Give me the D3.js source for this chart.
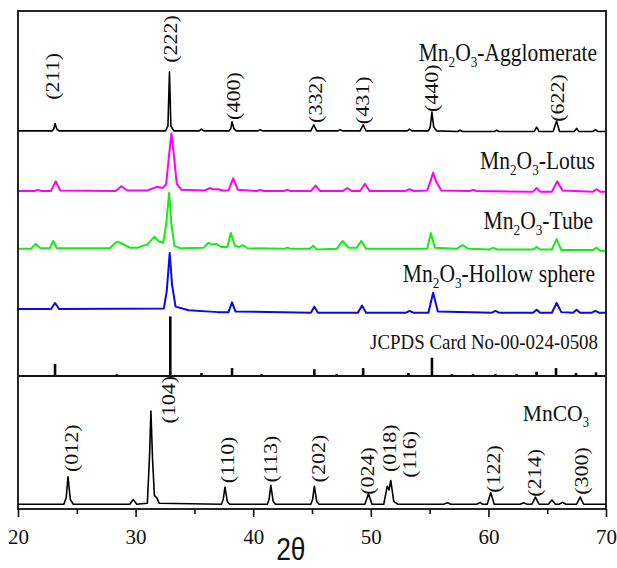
<!DOCTYPE html>
<html>
<head>
<meta charset="utf-8">
<script src="https://cdn.jsdelivr.net/npm/d3@7"></script>
<style>
	body { margin: 0; background: #fff; }
	svg { display: block; }
	.serif { font-family: "Liberation Serif", "Times New Roman", serif; }
</style>
</head>
<body>
<svg id="chart"></svg>
<script>
//2θ 範圍
var xDomain = [20, 70];
var majorTicks = [20, 30, 40, 50, 60, 70];
var minorTicks = [25, 35, 45, 55, 65];

//Mn2O3 樣品 (2θ, 強度 a.u.)
var seriesNames = ["Mn_2O_3-Agglomerate", "Mn_2O_3-Lotus", "Mn_2O_3-Tube", "Mn_2O_3-Hollow sphere"];
var seriesColors = ["#000000", "#ff00ff", "#11ee11", "#0a0ae6"];
var seriesOffsets = [403, 304, 209, 110];

var agglomerate = [[20,0],[22.9,0],[23.05,3],[23.15,12],[23.3,3],[23.5,0],[32.55,0],[32.75,8],[32.88,97],[33.0,8],[33.25,0],
	[35.4,0],[35.6,3],[35.8,0],[37.95,0],[38.1,4],[38.2,15],[38.35,4],[38.55,0],[40.4,0],[40.6,2],[40.8,0],
	[44.9,0],[45.15,10],[45.4,0],[47.2,0],[47.4,2],[47.6,0],[49.1,0],[49.35,10],[49.6,0],[53.1,0],[53.3,3],[53.5,0],
	[54.9,0],[55.05,6],[55.2,31],[55.35,6],[55.6,0],[57.4,-1],[57.6,1],[57.8,-1],[60.5,-1],[60.7,1],[60.9,-1],
	[63.9,-1],[64.1,6],[64.3,-1],[65.5,-1],[65.8,16],[66.05,-1],[67.3,-1],[67.5,4],[67.7,-1],[68.9,-1],[69.1,2],[69.3,-1],[70,-1]];

var lotus = [[20,0],[21.4,0],[21.7,2],[22.0,0],[22.8,0],[23.2,16],[23.6,1],[28.3,0],[28.8,8],[29.3,1],[31.0,1],[31.8,7],
	[32.3,5],[32.6,12],[32.85,60],[33.05,95],[33.25,60],[33.5,12],[33.9,2],[35.9,1],[36.3,5],[36.6,3],[37.0,3],[37.4,1],
	[37.9,1],[38.3,21],[38.7,2],[40.3,0],[40.6,2],[40.9,0],[42.6,0],[42.9,2],[43.2,0],[44.9,0],[45.3,9],[45.7,0],
	[47.6,0],[48.0,5],[48.4,0],[49.1,0],[49.5,12],[49.9,0],[52.9,0],[53.3,3],[53.7,0],[54.8,1],[55.1,18],[55.3,30],
	[55.6,14],[56.0,1],[58.4,0],[58.7,2],[59.0,0],[63.8,-1],[64.1,5],[64.4,-1],[65.4,-1],[65.85,16],[66.3,1],
	[68.9,-1],[69.2,3],[69.5,-1],[70,-1]];

var tube = [[20,0],[21.1,0],[21.5,8],[21.9,1],[22.7,1],[23.0,13],[23.3,1],[27.8,1],[28.3,10],[28.5,12],[28.9,8],[29.5,2],
	[30.2,2],[30.6,5],[31.0,7],[31.6,20],[32.0,12],[32.35,10],[32.6,40],[32.85,92],[33.05,40],[33.3,5],[33.8,1],
	[35.8,2],[36.2,10],[36.5,7],[36.9,8],[37.3,3],[37.8,3],[38.1,26],[38.45,5],[38.8,3],[39.1,6],[39.5,1],
	[42.6,0],[42.9,2],[43.2,0],[44.8,0],[45.1,5],[45.4,-1],[47.1,0],[47.6,13],[48.1,2],[48.8,2],[49.2,13],[49.6,0],
	[54.8,0],[55.1,26],[55.45,2],[57.3,0],[57.8,6],[58.3,0],[60.1,-1],[60.4,2],[60.7,-1],[63.8,-1],[64.1,3],[64.4,-1],
	[65.4,-1],[65.8,16],[66.2,-2],[68.9,-2],[69.2,2],[69.5,-3],[70,-3]];

var hollowSphere = [[20,0],[22.8,0],[23.15,10],[23.5,0],[32.4,1],[32.65,30],[32.9,92],[33.1,40],[33.4,4],[34.5,-2],
	[37.0,-5],[37.9,-5],[38.2,11],[38.5,-4],[44.9,-6],[45.2,4],[45.5,-6],[48.9,-6],[49.25,6],[49.6,-6],[53.0,-6],
	[53.3,-3],[53.6,-6],[54.9,-6],[55.3,27],[55.7,-4],[60.3,-6],[60.6,-3],[60.9,-6],[63.8,-6],[64.1,-1],[64.4,-6],
	[65.4,-6],[65.8,10],[66.2,-5],[67.2,-6],[67.5,-1],[67.8,-6],[68.8,-6],[69.1,-3],[69.4,-6],[70,-6]];

//JCPDS 00-024-0508 標準峰
var cardName = "JCPDS Card No-00-024-0508";
var cardPos = [23.15, 28.4, 32.95, 35.6, 38.2, 40.7, 45.2, 47.1, 49.35, 53.2, 55.2, 56.9, 58.7, 60.6, 62.4, 64.1, 65.75, 67.45, 69.15];
var cardInt = [20, 3, 98, 5, 13, 3, 11, 3, 13, 5, 30, 3, 3, 3, 3, 7, 13, 5, 6];

//MnCO3 前驅物
var mnco3Name = "MnCO_3";
var mnco3 = [[20,5],[23.9,5],[24.1,12],[24.25,34],[24.45,10],[24.7,5],[29.5,5],[29.8,10],[30.1,5],[31.0,6],[31.2,60],
	[31.3,103],[31.45,50],[31.6,14],[31.8,12],[32.0,6],[37.3,5],[37.45,10],[37.6,23],[37.8,8],[38.0,5],[41.2,5],
	[41.35,10],[41.5,25],[41.7,8],[41.9,5],[44.9,5],[45.05,10],[45.2,24],[45.4,8],[45.6,5],[49.5,5],[49.8,16],[50.1,5],
	[51.1,5],[51.4,24],[51.55,20],[51.7,30],[51.95,8],[52.3,5],[56.2,5],[56.5,6.5],[56.8,5],[59.0,5],[59.3,7],[59.5,5],
	[59.9,5],[60.2,17],[60.5,5],[62.7,5],[63.0,6.5],[63.3,5],[63.7,5],[64.0,12.6],[64.3,5],[65.1,5],[65.4,9.5],[65.7,5],
	[66.0,5],[66.3,7],[66.6,5],[67.5,5],[67.8,12.6],[68.1,5],[70,5]];

//晶面標示 (文字, 2θ, 高度 a.u.)
var hklUpper = ["(211)", "(222)", "(400)", "(332)", "(431)", "(440)", "(622)"];
var hklUpperPos = [22.93, 32.93, 38.28, 45.26, 49.25, 55.12, 65.88];
var hklUpperLevel = [454, 515, 421, 416, 414, 434, 418];

var hklLower = ["(012)", "(104)", "(110)", "(113)", "(202)", "(024)", "(018)", "(116)", "(122)", "(214)", "(300)"];
var hklLowerPos = [24.51, 32.76, 37.81, 41.5, 45.51, 49.68, 51.55, 53.25, 60.39, 63.88, 67.93];
var hklLowerLevel = [39, 90, 27, 28, 28, 15, 39, 33, 17, 13, 15];

var xTitle = "2θ";

//版面
var width = 617, height = 568;
var margin = {top: 11, right: 11, bottom: 59, left: 18};
var plotW = width - margin.left - margin.right;
var plotH = height - margin.top - margin.bottom;
var splitY = 365; //上下兩區分界 (相對於 margin.top)
var squeeze = 0.86;

var svg = d3.select("#chart")
	.attr("width", width)
	.attr("height", height);

var g = svg.append("g")
	.attr("transform", "translate(" + margin.left + "," + margin.top + ")");

var x = d3.scaleLinear()
	.domain(xDomain)
	.range([0, plotW]);

var yUpper = d3.scaleLinear()
	.domain([0, 600])
	.range([splitY, 0]);

var yLower = d3.scaleLinear()
	.domain([0, 140])
	.range([plotH, splitY]);

//含下標文字
function richText(sel, str, size) {
	var parts = str.split(/_(\d)/);
	var shift = 0;
	parts.forEach(function(p, i) {
		if (!p) return;
		var sub = i % 2 === 1;
		var target = sub ? Math.round(size * 0.26) : 0;
		sel.append("tspan")
			.attr("dy", target - shift)
			.style("font-size", (sub ? Math.round(size * 0.6) : size) + "px")
			.text(p);
		shift = target;
	});
}

function sideLabel(str, px, py, size, sx) {
	var t = g.append("text")
		.attr("class", "serif")
		.attr("transform", "translate(" + px + "," + py + ") scale(" + sx + ",1)")
		.attr("text-anchor", "end")
		.style("font-size", size + "px")
		.attr("fill", "#111");
	richText(t, str, size);
}

function hklLabel(txt, px, py) {
	g.append("text")
		.attr("class", "serif")
		.attr("transform", "translate(" + px + "," + py + ") scale(" + squeeze + ",1) rotate(-90)")
		.attr("dy", "0.35em")
		.style("font-size", "22px")
		.attr("fill", "#111")
		.text(txt);
}

//上區: Mn2O3 曲線
var seriesData = [agglomerate, lotus, tube, hollowSphere];

seriesData.forEach(function(data, i) {
	var off = seriesOffsets[i];
	var line = d3.line()
		.x(function(d) { return x(d[0]); })
		.y(function(d) { return yUpper(d[1] + off); });

	g.append("path")
		.datum(data)
		.attr("d", line)
		.attr("fill", "none")
		.attr("stroke", seriesColors[i])
		.attr("stroke-width", i === 0 ? 1.6 : 2)
		.attr("stroke-linejoin", "round");
});

//JCPDS 標準線
g.append("g")
	.selectAll("line")
	.data(cardPos)
	.enter().append("line")
	.attr("x1", function(d) { return x(d); })
	.attr("x2", function(d) { return x(d); })
	.attr("y1", yUpper(0))
	.attr("y2", function(d, i) { return yUpper(cardInt[i]); })
	.attr("stroke", "#000")
	.attr("stroke-width", 2.6);

//下區: MnCO3
var lowerLine = d3.line()
	.x(function(d) { return x(d[0]); })
	.y(function(d) { return yLower(d[1]); });

g.append("path")
	.datum(mnco3)
	.attr("d", lowerLine)
	.attr("fill", "none")
	.attr("stroke", "#000")
	.attr("stroke-width", 1.6)
	.attr("stroke-linejoin", "round");

//曲線名稱
var nameLevels = [518, 340, 242, 155];
var nameRight = [579, 577, 575, 577];
seriesNames.forEach(function(n, i) {
	sideLabel(n, nameRight[i], yUpper(nameLevels[i]), 24.5, 0.88);
});
sideLabel(cardName, 580, yUpper(44), 22, squeeze);
sideLabel(mnco3Name, 571, yLower(93), 24, 0.9);

//晶面
hklUpper.forEach(function(h, i) {
	hklLabel(h, x(hklUpperPos[i]), yUpper(hklUpperLevel[i]));
});
hklLower.forEach(function(h, i) {
	hklLabel(h, x(hklLowerPos[i]), yLower(hklLowerLevel[i]));
});

//外框與分隔線
g.append("rect")
	.attr("width", plotW)
	.attr("height", plotH)
	.attr("fill", "none")
	.attr("stroke", "#111")
	.attr("stroke-width", 1.8);

g.append("line")
	.attr("x1", 0)
	.attr("x2", plotW)
	.attr("y1", splitY)
	.attr("y2", splitY)
	.attr("stroke", "#111")
	.attr("stroke-width", 2);

//x軸
var axisMajor = g.append("g")
	.attr("transform", "translate(0," + plotH + ")")
	.call(d3.axisBottom(x).tickValues(majorTicks).tickSize(8).tickPadding(12).tickFormat(d3.format("d")));

axisMajor.select(".domain").remove();
axisMajor.selectAll("line").attr("stroke", "#111").attr("stroke-width", 1.6);
axisMajor.selectAll("text")
	.attr("class", "serif")
	.style("font-size", "21px")
	.attr("fill", "#111");

var axisMinor = g.append("g")
	.attr("transform", "translate(0," + plotH + ")")
	.call(d3.axisBottom(x).tickValues(minorTicks).tickSize(5).tickFormat(""));

axisMinor.select(".domain").remove();
axisMinor.selectAll("line").attr("stroke", "#111").attr("stroke-width", 1.6);

g.append("text")
	.attr("transform", "translate(" + (x(43.2)) + "," + (plotH + 51) + ") scale(0.85,1)")
	.attr("text-anchor", "middle")
	.style("font-family", "'Liberation Sans', Arial, sans-serif")
	.style("font-size", "31px")
	.attr("fill", "#111")
	.text(xTitle);
</script>
</body>
</html>
